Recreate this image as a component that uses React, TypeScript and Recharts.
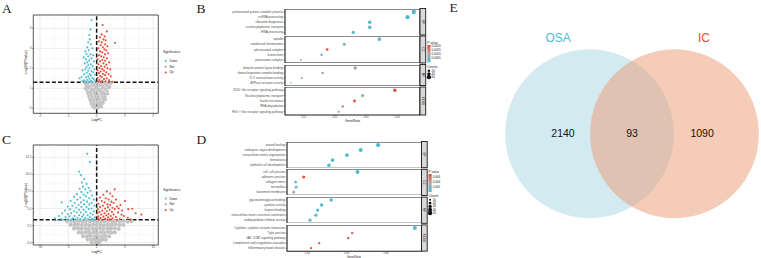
import React from "react";
import {
  ScatterChart,
  Scatter,
  XAxis,
  YAxis,
  ZAxis,
  CartesianGrid,
  ReferenceLine,
  ReferenceArea,
  Cell,
} from "recharts";

const SANS = '"Liberation Sans", Arial, sans-serif';
const SERIF = '"Liberation Serif", "Times New Roman", serif';
const BLUE = "#4DBBD5";
const RED = "#E64B35";
const GREY = "#C4C4C4";
const MID = "#B2A6A6";

type Pt = [number, number];

// ---- A: volcano (logFC, -log10 p) ----
const aDown: Pt[] = [
  [-0.18, 4.42], [-0.22, 3.95], [-0.26, 3.67], [-0.24, 3.45], [-0.3, 3.3], [-0.2, 3.2], [-0.33, 3.05],
  [-0.15, 3.0], [-0.28, 2.9], [-0.4, 2.85], [-0.36, 2.72], [-0.22, 2.7], [-0.12, 2.65], [-0.3, 2.6],
  [-0.45, 2.55], [-0.18, 2.5], [-0.38, 2.45], [-0.26, 2.4], [-0.1, 2.35], [-0.33, 2.3], [-0.42, 2.25],
  [-0.2, 2.2], [-0.3, 2.15], [-0.14, 2.1], [-0.36, 2.05], [-0.25, 2.0], [-0.08, 1.95], [-0.4, 1.95],
  [-0.5, 1.9], [-0.3, 1.88], [-0.18, 1.85], [-0.12, 1.8], [-0.35, 1.78], [-0.25, 1.72], [-0.44, 1.7],
  [-0.06, 1.68], [-0.2, 1.65], [-0.3, 1.6], [-0.38, 1.55], [-0.53, 1.58], [-0.6, 1.5], [-0.15, 1.52],
  [-0.26, 1.48], [-0.1, 1.45], [-0.34, 1.42], [-0.45, 1.4], [-0.2, 1.38], [-0.05, 1.36], [-0.28, 1.34],
  [-0.4, 1.33], [-0.15, 1.32], [-0.5, 1.35],
];
const aUp: Pt[] = [
  [0.21, 4.17], [0.36, 3.85], [0.65, 3.28], [0.18, 3.7], [0.28, 3.6], [0.12, 3.55], [0.24, 3.45],
  [0.32, 3.4], [0.08, 3.35], [0.18, 3.3], [0.3, 3.2], [0.14, 3.15], [0.38, 3.1], [0.22, 3.05], [0.06, 3.0],
  [0.27, 2.95], [0.34, 2.9], [0.12, 2.85], [0.2, 2.8], [0.41, 2.75], [0.3, 2.7], [0.08, 2.65], [0.16, 2.6],
  [0.25, 2.55], [0.36, 2.5], [0.04, 2.45], [0.2, 2.42], [0.3, 2.38], [0.12, 2.35], [0.44, 2.3], [0.24, 2.25],
  [0.06, 2.2], [0.34, 2.18], [0.16, 2.12], [0.28, 2.08], [0.1, 2.02], [0.38, 2.0], [0.2, 1.96], [0.48, 1.95],
  [0.03, 1.9], [0.26, 1.88], [0.14, 1.84], [0.34, 1.8], [0.08, 1.76], [0.22, 1.72], [0.42, 1.7], [0.3, 1.66],
  [0.12, 1.62], [0.5, 1.6], [0.18, 1.56], [0.04, 1.52], [0.36, 1.5], [0.26, 1.46], [0.1, 1.42], [0.44, 1.4],
  [0.2, 1.37], [0.32, 1.35], [0.06, 1.34], [0.56, 1.33], [0.14, 1.32],
];
const aNot: Pt[] = [
  [-0.42, 1.27], [-0.31, 1.24], [-0.2, 1.28], [-0.09, 1.22], [0.03, 1.26], [0.15, 1.21], [0.27, 1.27], [0.38, 1.23], [0.5, 1.25],
  [-0.37, 1.13], [-0.25, 1.1], [-0.13, 1.15], [-0.01, 1.09], [0.11, 1.14], [0.23, 1.11], [0.35, 1.16], [0.46, 1.08],
  [-0.4, 0.99], [-0.29, 1.02], [-0.17, 0.97], [-0.05, 1.01], [0.07, 0.96], [0.19, 1.0], [0.31, 0.98], [0.42, 1.03],
  [-0.34, 0.87], [-0.22, 0.84], [-0.11, 0.89], [0.01, 0.85], [0.13, 0.88], [0.25, 0.83], [0.37, 0.86],
  [-0.31, 0.74], [-0.19, 0.71], [-0.08, 0.76], [0.04, 0.72], [0.16, 0.75], [0.28, 0.7], [0.39, 0.73],
  [-0.28, 0.61], [-0.16, 0.58], [-0.05, 0.63], [0.07, 0.59], [0.19, 0.62], [0.3, 0.57],
  [-0.25, 0.48], [-0.13, 0.45], [-0.02, 0.5], [0.1, 0.46], [0.22, 0.49], [0.31, 0.44],
  [-0.22, 0.36], [-0.1, 0.33], [0.01, 0.37], [0.12, 0.32], [0.23, 0.35],
  [-0.19, 0.23], [-0.07, 0.2], [0.04, 0.24], [0.15, 0.19], [0.22, 0.25],
  [-0.14, 0.1], [-0.03, 0.07], [0.08, 0.11], [0.17, 0.06], [-0.08, 0.01], [0.04, 0.02],
];

// ---- C: volcano ----
const cDown: Pt[] = [
  [-1.65, 13.0], [-1.2, 11.8], [-3.1, 10.4], [-2.8, 9.9], [-2.2, 9.3], [-2.6, 8.8], [-1.8, 8.6], [-2.4, 8.2],
  [-1.4, 8.0], [-3.0, 7.9], [-2.0, 7.8], [-1.1, 7.6], [-2.7, 7.4], [-1.6, 7.3], [-3.5, 7.1], [-2.3, 7.0],
  [-0.8, 6.9], [-1.9, 6.8], [-4.0, 6.7], [-2.9, 6.6], [-1.3, 6.5], [-0.5, 6.3], [-3.4, 6.3], [-2.3, 6.2],
  [-4.6, 6.1], [-6.2, 5.9], [-1.7, 6.0], [-2.8, 5.9], [-3.9, 5.8], [-0.9, 5.8], [-1.3, 5.6], [-2.2, 5.6],
  [-3.2, 5.5], [-4.3, 5.4], [-5.1, 5.3], [-0.4, 5.4], [-1.8, 5.2], [-2.7, 5.2], [-3.6, 5.1], [-0.9, 5.0],
  [-4.7, 4.9], [-1.4, 4.9], [-2.3, 4.8], [-3.1, 4.8], [-5.6, 4.7], [-4.0, 4.6], [-0.5, 4.6], [-1.9, 4.5],
  [-2.8, 4.4], [-3.5, 4.4], [-1.1, 4.3], [-4.5, 4.3], [-6.1, 4.3], [-5.1, 4.2], [-2.3, 4.1], [-0.7, 4.1],
  [-3.1, 4.0], [-1.6, 4.0], [-3.9, 3.9], [-6.7, 3.9], [-4.8, 3.85], [-2.6, 3.8], [-1.2, 3.75], [-0.3, 3.7],
  [-5.5, 3.7], [-3.4, 3.65], [-2.0, 3.6], [-4.2, 3.55], [-7.4, 3.55], [-0.8, 3.5], [-2.9, 3.45], [-1.5, 3.45],
  [-6.3, 3.45], [-5.0, 3.4], [-3.8, 3.4], [-2.3, 3.36], [-0.5, 3.36], [-4.5, 3.35], [-1.0, 3.34], [-5.9, 3.34],
  [-6.9, 3.34],
];
const cUp: Pt[] = [
  [3.2, 7.8], [1.8, 7.5], [2.4, 7.2], [1.2, 7.0], [2.8, 6.8], [0.6, 6.6], [1.6, 6.5], [2.1, 6.3], [3.4, 6.3],
  [5.0, 6.1], [0.9, 6.1], [2.6, 6.0], [1.4, 5.9], [3.0, 5.8], [0.3, 5.7], [1.9, 5.6], [2.4, 5.5], [4.2, 5.5],
  [1.1, 5.4], [3.6, 5.3], [0.6, 5.2], [2.0, 5.2], [2.8, 5.1], [1.5, 5.0], [5.6, 4.9], [6.3, 4.95], [0.2, 4.9],
  [3.2, 4.9], [2.3, 4.8], [1.0, 4.7], [4.5, 4.7], [1.8, 4.6], [2.7, 4.5], [0.5, 4.5], [3.8, 4.4], [1.4, 4.3],
  [2.1, 4.2], [6.9, 4.3], [0.8, 4.1], [3.0, 4.1], [1.7, 4.0], [7.9, 4.1], [2.5, 3.9], [4.8, 3.9], [0.3, 3.85],
  [1.2, 3.8], [3.4, 3.75], [2.0, 3.7], [5.5, 3.65], [0.7, 3.6], [2.8, 3.55], [1.5, 3.5], [4.1, 3.45], [0.4, 3.4],
  [2.3, 3.4], [3.6, 3.35], [1.0, 3.35], [1.9, 3.34], [6.0, 3.4], [0.15, 4.3], [0.2, 3.6], [4.4, 4.1], [3.9, 5.0],
];
const cNot: Pt[] = [
  [-5.2, 3.12], [-4.5, 3.2], [-3.9, 3.05], [-3.2, 3.18], [-2.5, 3.08], [-1.9, 3.22], [-1.2, 3.1], [-0.5, 3.2],
  [0.1, 3.06], [0.8, 3.19], [1.4, 3.09], [2.1, 3.21], [2.8, 3.04], [3.4, 3.17], [4.1, 3.1], [4.8, 3.2], [5.5, 3.08], [6.2, 3.15],
  [-4.6, 2.62], [-3.9, 2.55], [-3.3, 2.68], [-2.6, 2.58], [-1.9, 2.66], [-1.3, 2.52], [-0.6, 2.64], [0.0, 2.57],
  [0.7, 2.67], [1.3, 2.54], [2.0, 2.63], [2.6, 2.56], [3.3, 2.66], [4.0, 2.58], [4.7, 2.6],
  [-4.0, 2.05], [-3.3, 2.12], [-2.7, 2.0], [-2.0, 2.1], [-1.4, 1.98], [-0.7, 2.08], [-0.1, 2.02], [0.6, 2.11],
  [1.2, 1.99], [1.9, 2.07], [2.5, 2.02], [3.2, 2.1], [3.9, 2.0],
  [-3.2, 1.5], [-2.6, 1.44], [-1.9, 1.55], [-1.3, 1.46], [-0.6, 1.53], [0.0, 1.45], [0.7, 1.52], [1.3, 1.47],
  [2.0, 1.55], [2.6, 1.44], [3.2, 1.5],
  [-2.4, 0.96], [-1.7, 0.9], [-1.1, 0.99], [-0.4, 0.92], [0.2, 0.97], [0.9, 0.91], [1.5, 0.98], [2.2, 0.93],
  [-1.6, 0.46], [-0.9, 0.41], [-0.3, 0.48], [0.4, 0.43], [1.0, 0.47], [1.6, 0.42],
  [-0.9, 0.06], [-0.2, 0.03], [0.5, 0.07],
];

// ---- B: enrichment dot plot ----
const bFacets = ["BP", "CC", "MF", "KEGG"];
const bTerms = [
  ["proteasomal protein catabolic process", "ncRNA processing", "ribosome biogenesis", "nucleocytoplasmic transport", "rRNA processing"],
  ["spindle", "condensed chromosome", "spliceosomal complex", "kinetochore", "proteasome complex"],
  ["ubiquitin protein ligase binding", "ribonucleoprotein complex binding", "3'-5' exonuclease activity", "ATPase activator activity"],
  ["NOD\u2212like receptor signaling pathway", "Nucleocytoplasmic transport", "Insulin resistance", "RNA degradation", "RIG\u2212I\u2212like receptor signaling pathway"],
];
const bRatio = [
  [0.0454, 0.0434, 0.0312, 0.0312, 0.0259],
  [0.0343, 0.023, 0.0175, 0.0157, 0.009],
  [0.0265, 0.016, 0.0093, 0.0058],
  [0.0393, 0.0289, 0.0263, 0.0225, 0.0212],
];
const bCount = [
  [62, 59, 43, 43, 36],
  [46, 31, 24, 21, 12],
  [36, 22, 13, 8],
  [40, 30, 28, 18, 17],
];
const bPval = [
  [0.0001, 0.0001, 0.0002, 0.0002, 0.0002],
  [0.0002, 0.0007, 0.0021, 0.0004, 0.0003],
  [0.0012, 0.0011, 0.0004, 0.0003],
  [0.0021, 0.0005, 0.002, 0.0016, 0.0012],
];
const bTicks = [0.01, 0.02, 0.03, 0.04];
const bPLegend = [0.002, 0.0015, 0.001, 0.0005];
const bCountLegend = [20, 40, 60];

// ---- D: enrichment dot plot ----
const dTerms = [
  ["wound healing", "embryonic organ development", "extracellular matrix organization", "hemostasis", "epithelial cell development"],
  ["cell\u2212cell junction", "adherens junction", "collagen trimer", "microvillus", "basement membrane"],
  ["glycosaminoglycan binding", "cytokine activity", "heparin binding", "extracellular matrix structural constituent", "endopeptidase inhibitor activity"],
  ["Cytokine\u2212cytokine receptor interaction", "Tight junction", "JAK\u2212STAT signaling pathway", "Complement and coagulation cascades", "Inflammatory bowel disease"],
];
const dRatio = [
  [0.076, 0.0671, 0.0601, 0.0528, 0.0509],
  [0.0655, 0.0381, 0.034, 0.0342, 0.033],
  [0.0521, 0.0472, 0.0452, 0.0443, 0.0413],
  [0.0947, 0.0628, 0.0608, 0.046, 0.0418],
];
const dCount = [
  [48, 42, 38, 33, 32],
  [41, 24, 21, 21, 20],
  [33, 30, 28, 28, 26],
  [42, 20, 19, 14, 12],
];
const dPval = [
  [0.0002, 0.0002, 0.0002, 0.0003, 0.0003],
  [0.0004, 0.0072, 0.0006, 0.0006, 0.0042],
  [0.0004, 0.0004, 0.0005, 0.0005, 0.0008],
  [0.0004, 0.005, 0.0056, 0.0068, 0.0072],
];
const dTicks = [0.04, 0.06, 0.08];
const dPLegend = [0.006, 0.004, 0.002];
const dCountLegend = [10, 20, 30, 40, 50];

// ---- E: Venn ----
const vennSets = ["OSA", "IC"];
const vennCounts = [2140, 93, 1090];

// colour scale for p values: blue (low) -> grey -> red (high)
function hex(c: string) {
  return [1, 3, 5].map((i) => parseInt(c.slice(i, i + 2), 16));
}
function mix(a: string, b: string, t: number) {
  const A = hex(a), B = hex(b);
  return `rgb(${A.map((v, i) => Math.round(v + (B[i] - v) * t)).join(",")})`;
}
function pColor(p: number, dom: [number, number]) {
  const t = Math.max(0, Math.min(1, (p - dom[0]) / (dom[1] - dom[0])));
  return t < 0.5 ? mix(BLUE, MID, t * 2) : mix(MID, RED, (t - 0.5) * 2);
}

const dot = (fill: string, r: number) => (p: any) => <circle cx={p.cx} cy={p.cy} r={r} fill={fill} />;
const pts = (arr: Pt[]) => arr.map(([x, y]) => ({ x, y }));

function Volcano(props: {
  top: number; plotH: number; down: Pt[]; not: Pt[]; up: Pt[];
  xDomain: [number, number]; yDomain: [number, number]; xTicks: number[]; yTicks: number[];
  xMinor: number[]; yMinor: number[]; yCut: number; yFmt: (v: number) => string; notR: number;
}) {
  const { xDomain, yDomain } = props;
  const tick = { fontSize: 3, fill: "#4D4D4D", fontFamily: SANS };
  return (
    <div style={{ position: "absolute", left: 0, top: props.top }}>
      <ScatterChart width={160} height={15 + props.plotH + 8.7} margin={{ top: 15, right: 1.7, bottom: 0, left: 0 }}>
        <CartesianGrid stroke="#E2E2E2" strokeWidth={0.6} />
        {props.xMinor.map((v) => (
          <ReferenceLine key={"x" + v} x={v} stroke="#F1F1F1" strokeWidth={0.4} />
        ))}
        {props.yMinor.map((v) => (
          <ReferenceLine key={"y" + v} y={v} stroke="#F1F1F1" strokeWidth={0.4} />
        ))}
        <XAxis type="number" dataKey="x" domain={xDomain} ticks={props.xTicks} allowDataOverflow interval={0}
          height={8.7} tick={tick} tickSize={1} tickMargin={0.3} axisLine={false} tickLine={{ stroke: "#333", strokeWidth: 0.5 }} />
        <YAxis type="number" dataKey="y" domain={yDomain} ticks={props.yTicks} allowDataOverflow interval={0}
          width={33.3} tick={tick} tickSize={1.2} tickMargin={0.6} axisLine={false} tickFormatter={props.yFmt}
          tickLine={{ stroke: "#333", strokeWidth: 0.5 }} />
        <Scatter data={pts(props.not)} shape={dot(GREY, props.notR)} isAnimationActive={false} />
        <Scatter data={pts(props.down)} shape={dot(BLUE, 1.05)} isAnimationActive={false} />
        <Scatter data={pts(props.up)} shape={dot(RED, 1.05)} isAnimationActive={false} />
        <ReferenceLine y={props.yCut} stroke="#111" strokeWidth={1.5} strokeDasharray="4 2.2" />
        <ReferenceLine x={0} stroke="#111" strokeWidth={1.5} strokeDasharray="4 2.2" />
        <ReferenceArea x1={xDomain[0]} x2={xDomain[1]} y1={yDomain[0]} y2={yDomain[1]} fill="none" fillOpacity={0}
          stroke="#333" strokeWidth={0.8} />
      </ScatterChart>
    </div>
  );
}

function DotFacet(props: {
  left: number; top: number; h: number; terms: string[]; ratio: number[]; count: number[]; pval: number[];
  xDomain: [number, number]; xTicks: number[]; showX: boolean; cDom: [number, number]; zMax: number;
}) {
  const n = props.terms.length;
  const rows = props.terms.map((_, i) => i);
  const data = props.terms.map((_, i) => ({
    x: props.ratio[i], y: i, z: props.count[i], fill: pColor(props.pval[i], props.cDom),
  }));
  const axisH = props.showX ? 6 : 0;
  const yDom: [number, number] = [-0.6, n - 0.4];
  return (
    <div style={{ position: "absolute", left: props.left, top: props.top }}>
      <ScatterChart width={205} height={props.h + axisH} margin={{ top: 0, right: 0, bottom: 0, left: 0 }}>
        <XAxis type="number" dataKey="x" domain={props.xDomain} ticks={props.xTicks} allowDataOverflow interval={0}
          hide={!props.showX} height={axisH} tickFormatter={(v: number) => v.toFixed(2)}
          tick={{ fontSize: 2.7, fill: "#4D4D4D", fontFamily: SANS }} tickSize={1} tickMargin={0.3}
          axisLine={false} tickLine={{ stroke: "#333", strokeWidth: 0.5 }} />
        <YAxis type="number" dataKey="y" domain={yDom} reversed ticks={rows} interval={0} allowDataOverflow width={70}
          tickSize={1.5} tickMargin={0.5} axisLine={false} tickLine={{ stroke: "#333", strokeWidth: 0.5 }}
          tick={(p: any) => (
            <text x={p.x} y={p.y} dy={1.05} textAnchor="end" fontSize={3} fill="#4D4D4D" fontFamily={SANS}>
              {props.terms[p.payload.value]}
            </text>
          )} />
        <ZAxis type="number" dataKey="z" domain={[0, props.zMax]} range={[0, 15]} />
        <ReferenceArea x1={props.xDomain[0]} x2={props.xDomain[1]} y1={yDom[0]} y2={yDom[1]} fill="none"
          fillOpacity={0} stroke="#1A1A1A" strokeWidth={1.1} />
        <Scatter data={data} shape="circle" isAnimationActive={false}>
          {data.map((d, i) => (
            <Cell key={i} fill={d.fill} />
          ))}
        </Scatter>
      </ScatterChart>
    </div>
  );
}

function DotPanel(props: {
  left: number; tops: number[]; hs: number[]; terms: string[][]; ratio: number[][]; count: number[][];
  pval: number[][]; xDomain: [number, number]; xTicks: number[]; cDom: [number, number]; zMax: number;
}) {
  return (
    <>
      {props.terms.map((t, f) => (
        <DotFacet key={f} left={props.left} top={props.tops[f]} h={props.hs[f]} terms={t} ratio={props.ratio[f]}
          count={props.count[f]} pval={props.pval[f]} xDomain={props.xDomain} xTicks={props.xTicks}
          showX={f === props.terms.length - 1} cDom={props.cDom} zMax={props.zMax} />
      ))}
    </>
  );
}

const B_TOPS = [8.5, 36, 64.5, 87];
const B_HS = [26.5, 27, 21, 28];
const D_TOPS = [141.5, 169.3, 197.1, 224.9];
const D_HS = [26.2, 26.2, 26.2, 26.2];
const B_XDOM: [number, number] = [0.0039, 0.0474];
const D_XDOM: [number, number] = [0.0296, 0.0983];
const B_CDOM: [number, number] = [0.00005, 0.0021];
const D_CDOM: [number, number] = [0.0001, 0.0073];

// Venn layout in units of circle radius
const VENN_W = 260;
const VENN_XDOM: [number, number] = [-1.54, 1.54];
const VENN_YDOM: [number, number] = [-1.12, 1.3];
const VENN_PX = VENN_W / (VENN_XDOM[1] - VENN_XDOM[0]);
const vennCircles = [
  { x: -0.503, y: 0, fill: "#AAD6E3" },
  { x: 0.503, y: 0, fill: "#E99971" },
];
const vennLabels = [
  { x: -0.876, y: 1.13, text: vennSets[0], color: BLUE, size: 12 },
  { x: 0.852, y: 1.13, text: vennSets[1], color: RED, size: 12 },
  { x: -0.817, y: 0, text: String(vennCounts[0]), color: "#111", size: 10.5 },
  { x: 0, y: 0, text: String(vennCounts[1]), color: "#111", size: 10.5 },
  { x: 0.83, y: 0, text: String(vennCounts[2]), color: "#111", size: 10.5 },
];

function Venn() {
  const h = (VENN_YDOM[1] - VENN_YDOM[0]) * VENN_PX;
  return (
    <div style={{ position: "absolute", left: 502, top: 133.5 - VENN_YDOM[1] * VENN_PX }}>
      <ScatterChart width={VENN_W} height={h} margin={{ top: 0, right: 0, bottom: 0, left: 0 }}>
        <XAxis type="number" dataKey="x" domain={VENN_XDOM} hide allowDataOverflow />
        <YAxis type="number" dataKey="y" domain={VENN_YDOM} hide allowDataOverflow />
        <Scatter data={vennCircles} isAnimationActive={false}
          shape={(p: any) => <circle cx={p.cx} cy={p.cy} r={VENN_PX} fill={p.payload.fill} fillOpacity={0.5} />} />
        <Scatter data={vennLabels} isAnimationActive={false}
          shape={(p: any) => (
            <text x={p.cx} y={p.cy} textAnchor="middle" dominantBaseline="central" fontSize={p.payload.size}
              fill={p.payload.color} fontFamily={SANS}>
              {p.payload.text}
            </text>
          )} />
      </ScatterChart>
    </div>
  );
}

function Strips({ x, tops, hs, names }: { x: number; tops: number[]; hs: number[]; names: string[] }) {
  return (
    <>
      {names.map((nm, i) => (
        <g key={nm}>
          <rect x={x} y={tops[i]} width={5.7} height={hs[i]} fill="#D9D9D9" stroke="#1A1A1A" strokeWidth={0.9} />
          <text x={x + 2.85} y={tops[i] + hs[i] / 2} transform={`rotate(90 ${x + 2.85} ${tops[i] + hs[i] / 2})`}
            textAnchor="middle" dominantBaseline="central" fontSize={3} fill="#1A1A1A">
            {nm}
          </text>
        </g>
      ))}
    </>
  );
}

function PLegend(props: {
  x: number; y: number; barH: number; dom: [number, number]; labels: number[]; digits: number;
  countY: number; counts: number[]; zMax: number; step: number; id: string;
}) {
  const { x, y, barH, dom } = props;
  const yOf = (v: number) => y + barH * (1 - (v - dom[0]) / (dom[1] - dom[0]));
  return (
    <g fontSize={3} fill="#1A1A1A">
      <text x={x} y={y - 1.2} fontSize={3.2}>P value</text>
      <rect x={x} y={y} width={3.2} height={barH} fill={`url(#${props.id})`} />
      {props.labels.map((v) => (
        <text key={v} x={x + 4.2} y={yOf(v) + 1}>{v.toFixed(props.digits)}</text>
      ))}
      <text x={x} y={props.countY} fontSize={3.2}>Counts</text>
      {props.counts.map((c, i) => (
        <g key={c}>
          <circle cx={x + 1.6} cy={props.countY + 3.3 + i * props.step} r={Math.sqrt((15 * c) / props.zMax / Math.PI)} fill="#111" />
          <text x={x + 4.2} y={props.countY + 4.3 + i * props.step}>{c}</text>
        </g>
      ))}
    </g>
  );
}

function SigLegend({ y, gap }: { y: number; gap: number }) {
  const items = [
    { t: "Down", c: BLUE },
    { t: "Not", c: "#9A9A9A" },
    { t: "Up", c: RED },
  ];
  return (
    <g fontSize={3} fill="#1A1A1A">
      <text x={163} y={y} fontSize={3.2}>Significance</text>
      {items.map((it, i) => (
        <g key={it.t}>
          <circle cx={165.7} cy={y + 8 + i * gap} r={1} fill={it.c} />
          <text x={169.5} y={y + 9 + i * gap}>{it.t}</text>
        </g>
      ))}
    </g>
  );
}

function Overlay() {
  return (
    <svg width={761} height={258} style={{ position: "absolute", left: 0, top: 0, pointerEvents: "none" }} fontFamily={SANS}>
      <defs>
        {["gB", "gD"].map((id) => (
          <linearGradient key={id} id={id} x1="0" y1="1" x2="0" y2="0">
            <stop offset="0%" stopColor={BLUE} />
            <stop offset="50%" stopColor={MID} />
            <stop offset="100%" stopColor={RED} />
          </linearGradient>
        ))}
      </defs>
      <g fontFamily={SERIF} fontSize={13.5} fill="#222">
        <text x={2} y={13}>A</text>
        <text x={196.5} y={13}>B</text>
        <text x={2} y={144}>C</text>
        <text x={196.5} y={144}>D</text>
        <text x={449.5} y={12}>E</text>
      </g>
      <g fontSize={3.5} fill="#1A1A1A" textAnchor="middle">
        <text x={96.7} y={121.3}>LogFC</text>
        <text x={26.5} y={62.5} transform="rotate(-90 26.5 62.5)">-Log10(P.Value)</text>
        <text x={96.7} y={253.3}>LogFC</text>
        <text x={26.5} y={195.5} transform="rotate(-90 26.5 195.5)">-Log10(P.Value)</text>
        <text x={352.5} y={122} fontSize={3.2}>GeneRatio</text>
        <text x={354} y={257.6} fontSize={2.9}>GeneRatio</text>
      </g>
      <SigLegend y={53} gap={5.7} />
      <SigLegend y={190.5} gap={5.7} />
      <Strips x={420} tops={B_TOPS} hs={B_HS} names={bFacets} />
      <Strips x={421.5} tops={D_TOPS} hs={D_HS} names={bFacets} />
      <PLegend id="gB" x={427.3} y={45} barH={17.3} dom={[0, 0.0021]} labels={bPLegend} digits={4}
        countY={67.5} counts={bCountLegend} zMax={62} step={3.2} />
      <PLegend id="gD" x={428.5} y={174} barH={18} dom={D_CDOM} labels={dPLegend} digits={3}
        countY={196.5} counts={dCountLegend} zMax={50} step={3.3} />
    </svg>
  );
}

export default function App() {
  return (
    <div style={{ position: "absolute", left: 0, top: 0, width: 761, height: 258, overflow: "hidden", background: "#fff", fontFamily: SANS }}>
      <Volcano top={0} plotH={98.3} down={aDown} not={aNot} up={aUp} xDomain={[-2.24, 2.18]} yDomain={[-0.25, 4.67]}
        xTicks={[-2, -1, 0, 1, 2]} yTicks={[0, 1, 2, 3, 4]} xMinor={[-1.5, -0.5, 0.5, 1.5]} yMinor={[0.5, 1.5, 2.5, 3.5, 4.5]}
        yCut={1.3} yFmt={(v) => String(v)} notR={1.7} />
      <Volcano top={130} plotH={100} down={cDown} not={cNot} up={cUp} xDomain={[-11.2, 10.9]} yDomain={[-0.35, 14.3]}
        xTicks={[-10, -5, 0, 5, 10]} yTicks={[0, 2.5, 5, 7.5, 10, 12.5]} xMinor={[-7.5, -2.5, 2.5, 7.5]}
        yMinor={[1.25, 3.75, 6.25, 8.75, 11.25, 13.75]} yCut={3.35} yFmt={(v) => v.toFixed(1)} notR={2.1} />
      <DotPanel left={215} tops={B_TOPS} hs={B_HS} terms={bTerms} ratio={bRatio} count={bCount} pval={bPval}
        xDomain={B_XDOM} xTicks={bTicks} cDom={B_CDOM} zMax={62} />
      <DotPanel left={216.5} tops={D_TOPS} hs={D_HS} terms={dTerms} ratio={dRatio} count={dCount} pval={dPval}
        xDomain={D_XDOM} xTicks={dTicks} cDom={D_CDOM} zMax={50} />
      <Venn />
      <Overlay />
    </div>
  );
}
